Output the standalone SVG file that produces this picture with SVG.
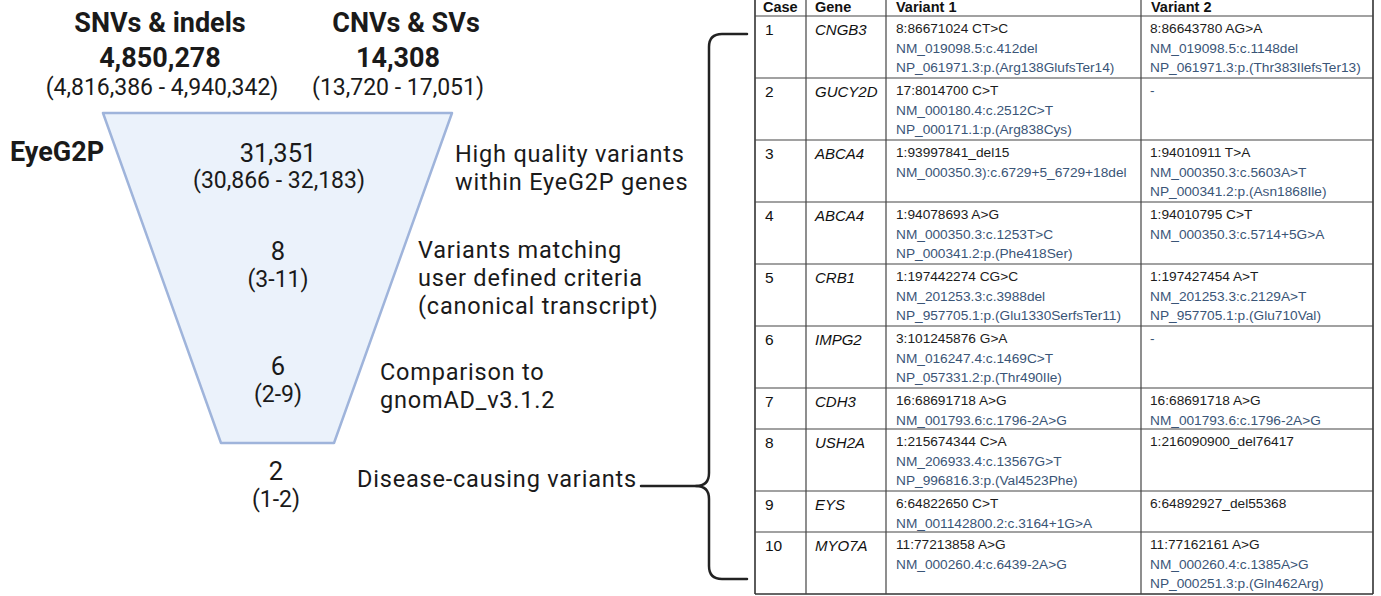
<svg xmlns="http://www.w3.org/2000/svg" width="1381" height="596" viewBox="0 0 1381 596">
<style>
.t{font-family:Roboto,"Liberation Sans",sans-serif;fill:#1a1a1a}
.b{font-weight:700;font-size:27px}
.n{font-size:25.5px}
.l{font-size:23.5px;letter-spacing:0.8px}
.p{font-size:23px}
.m{text-anchor:middle}
.th{font-family:"Liberation Sans",Arial,sans-serif;font-weight:700;font-size:14.5px;fill:#111}
.cn{font-family:"Liberation Sans",Arial,sans-serif;font-size:15.5px;fill:#111}
.gn{font-family:"Liberation Sans",Arial,sans-serif;font-size:15px;font-style:italic;fill:#111}
.v0{font-family:"Liberation Sans",Arial,sans-serif;font-size:13.7px;fill:#1c1c1c}
.v1{font-family:"Liberation Sans",Arial,sans-serif;font-size:13.7px;fill:#3a5577}
.grid{stroke:#444;stroke-width:1.2;fill:none}
.outer{stroke:#333;stroke-width:1.6;fill:none}
.br{stroke:#222;stroke-width:2.5;fill:none;stroke-linecap:round;stroke-linejoin:round}
</style>
<rect width="1381" height="596" fill="#fff"/>

<g id="title-snv">
<text class="t b m" x="160" y="32">SNVs &amp; indels</text>
<text class="t b m" x="160" y="67">4,850,278</text>
<text class="t p m" x="162" y="95">(4,816,386 - 4,940,342)</text>
</g>
<g id="title-cnv">
<text class="t b m" x="406" y="32">CNVs &amp; SVs</text>
<text class="t b m" x="398" y="67">14,308</text>
<text class="t p m" x="398" y="95">(13,720 - 17,051)</text>
</g>

<g id="funnel">
<polygon points="103,113 452,113 334,443 221,443" fill="#EBF2FB" stroke="#9FB4DB" stroke-width="2.5" stroke-linejoin="round"/>
</g>

<g id="eyeg2p"><text class="t b" x="10" y="161">EyeG2P</text></g>

<g id="stage1">
<text class="t m" x="278" y="162"><tspan class="n" x="278">31,351</tspan><tspan class="p" x="279" dy="26">(30,866 - 32,183)</tspan></text>
<text class="t l" x="455" y="162"><tspan x="455">High quality variants</tspan><tspan x="455" dy="28">within EyeG2P genes</tspan></text>
</g>
<g id="stage2">
<text class="t m" x="278" y="260"><tspan class="n" x="278">8</tspan><tspan class="p" x="278" dy="27">(3-11)</tspan></text>
<text class="t l" x="418" y="258"><tspan x="418">Variants matching</tspan><tspan x="418" dy="28">user defined criteria</tspan><tspan x="418" dy="28">(canonical transcript)</tspan></text>
</g>
<g id="stage3">
<text class="t m" x="278" y="375"><tspan class="n" x="278">6</tspan><tspan class="p" x="278" dy="27">(2-9)</tspan></text>
<text class="t l" x="380" y="380"><tspan x="380">Comparison to</tspan><tspan x="380" dy="28">gnomAD_v3.1.2</tspan></text>
</g>
<g id="stage4">
<text class="t m" x="276" y="480"><tspan class="n" x="276">2</tspan><tspan class="p" x="276" dy="27">(1-2)</tspan></text>
<text class="t l" x="357" y="487">Disease-causing variants</text>
</g>

<g id="connectors">
<path class="br" d="M641,486 H696 Q709,486 709,473 V47 Q709,34 722,34 H747"/>
<path class="br" d="M696,486 Q709,486 709,499 V566 Q709,579 722,579 H747"/>
</g>

<g id="table">
<g id="table-grid">
<line class="outer" x1="755" y1="0" x2="755" y2="594"/>
<line class="outer" x1="1373" y1="0" x2="1373" y2="594"/>
<line class="outer" x1="755" y1="594" x2="1373" y2="594"/>
<line class="grid" x1="806" y1="0" x2="806" y2="594"/>
<line class="grid" x1="886" y1="0" x2="886" y2="594"/>
<line class="grid" x1="1141" y1="0" x2="1141" y2="594"/>
<line class="grid" x1="755" y1="16" x2="1373" y2="16"/>
<line class="grid" x1="755" y1="78" x2="1373" y2="78"/>
<line class="grid" x1="755" y1="140" x2="1373" y2="140"/>
<line class="grid" x1="755" y1="202" x2="1373" y2="202"/>
<line class="grid" x1="755" y1="264" x2="1373" y2="264"/>
<line class="grid" x1="755" y1="326" x2="1373" y2="326"/>
<line class="grid" x1="755" y1="388" x2="1373" y2="388"/>
<line class="grid" x1="755" y1="429" x2="1373" y2="429"/>
<line class="grid" x1="755" y1="491" x2="1373" y2="491"/>
<line class="grid" x1="755" y1="532" x2="1373" y2="532"/>
</g>
<g id="table-header">
<text class="th" x="763" y="12">Case</text>
<text class="th" x="815" y="12">Gene</text>
<text class="th" x="896" y="12">Variant 1</text>
<text class="th" x="1151" y="12">Variant 2</text>
</g>
<g id="row1">
<text class="cn" x="765" y="35">1</text><text class="gn" x="815" y="35">CNGB3</text>
<text class="v0" x="896" y="33">8:86671024 CT&gt;C</text>
<text class="v1" x="896" y="52.5">NM_019098.5:c.412del</text>
<text class="v1" x="896" y="72">NP_061971.3:p.(Arg138GlufsTer14)</text>
<text class="v0" x="1150" y="33">8:86643780 AG&gt;A</text>
<text class="v1" x="1150" y="52.5">NM_019098.5:c.1148del</text>
<text class="v1" x="1150" y="72">NP_061971.3:p.(Thr383IlefsTer13)</text>
</g>
<g id="row2">
<text class="cn" x="765" y="97">2</text><text class="gn" x="815" y="97">GUCY2D</text>
<text class="v0" x="896" y="95">17:8014700 C&gt;T</text>
<text class="v1" x="896" y="114.5">NM_000180.4:c.2512C&gt;T</text>
<text class="v1" x="896" y="134">NP_000171.1:p.(Arg838Cys)</text>
<text class="v1" x="1150" y="95">-</text>
</g>
<g id="row3">
<text class="cn" x="765" y="159">3</text><text class="gn" x="815" y="159">ABCA4</text>
<text class="v0" x="896" y="157">1:93997841_del15</text>
<text class="v1" x="896" y="176.5">NM_000350.3):c.6729+5_6729+18del</text>
<text class="v0" x="1150" y="157">1:94010911 T&gt;A</text>
<text class="v1" x="1150" y="176.5">NM_000350.3:c.5603A&gt;T</text>
<text class="v1" x="1150" y="196">NP_000341.2:p.(Asn1868Ile)</text>
</g>
<g id="row4">
<text class="cn" x="765" y="221">4</text><text class="gn" x="815" y="221">ABCA4</text>
<text class="v0" x="896" y="219">1:94078693 A&gt;G</text>
<text class="v1" x="896" y="238.5">NM_000350.3:c.1253T&gt;C</text>
<text class="v1" x="896" y="258">NP_000341.2:p.(Phe418Ser)</text>
<text class="v0" x="1150" y="219">1:94010795 C&gt;T</text>
<text class="v1" x="1150" y="238.5">NM_000350.3:c.5714+5G&gt;A</text>
</g>
<g id="row5">
<text class="cn" x="765" y="283">5</text><text class="gn" x="815" y="283">CRB1</text>
<text class="v0" x="896" y="281">1:197442274 CG&gt;C</text>
<text class="v1" x="896" y="300.5">NM_201253.3:c.3988del</text>
<text class="v1" x="896" y="320">NP_957705.1:p.(Glu1330SerfsTer11)</text>
<text class="v0" x="1150" y="281">1:197427454 A&gt;T</text>
<text class="v1" x="1150" y="300.5">NM_201253.3:c.2129A&gt;T</text>
<text class="v1" x="1150" y="320">NP_957705.1:p.(Glu710Val)</text>
</g>
<g id="row6">
<text class="cn" x="765" y="345">6</text><text class="gn" x="815" y="345">IMPG2</text>
<text class="v0" x="896" y="343">3:101245876 G&gt;A</text>
<text class="v1" x="896" y="362.5">NM_016247.4:c.1469C&gt;T</text>
<text class="v1" x="896" y="382">NP_057331.2:p.(Thr490Ile)</text>
<text class="v1" x="1150" y="343">-</text>
</g>
<g id="row7">
<text class="cn" x="765" y="407">7</text><text class="gn" x="815" y="407">CDH3</text>
<text class="v0" x="896" y="405">16:68691718 A&gt;G</text>
<text class="v1" x="896" y="424.5">NM_001793.6:c.1796-2A&gt;G</text>
<text class="v0" x="1150" y="405">16:68691718 A&gt;G</text>
<text class="v1" x="1150" y="424.5">NM_001793.6:c.1796-2A&gt;G</text>
</g>
<g id="row8">
<text class="cn" x="765" y="448">8</text><text class="gn" x="815" y="448">USH2A</text>
<text class="v0" x="896" y="446">1:215674344 C&gt;A</text>
<text class="v1" x="896" y="465.5">NM_206933.4:c.13567G&gt;T</text>
<text class="v1" x="896" y="485">NP_996816.3:p.(Val4523Phe)</text>
<text class="v0" x="1150" y="446">1:216090900_del76417</text>
</g>
<g id="row9">
<text class="cn" x="765" y="510">9</text><text class="gn" x="815" y="510">EYS</text>
<text class="v0" x="896" y="508">6:64822650 C&gt;T</text>
<text class="v1" x="896" y="527.5">NM_001142800.2:c.3164+1G&gt;A</text>
<text class="v0" x="1150" y="508">6:64892927_del55368</text>
</g>
<g id="row10">
<text class="cn" x="765" y="551">10</text><text class="gn" x="815" y="551">MYO7A</text>
<text class="v0" x="896" y="549">11:77213858 A&gt;G</text>
<text class="v1" x="896" y="568.5">NM_000260.4:c.6439-2A&gt;G</text>
<text class="v0" x="1150" y="549">11:77162161 A&gt;G</text>
<text class="v1" x="1150" y="568.5">NM_000260.4:c.1385A&gt;G</text>
<text class="v1" x="1150" y="588">NP_000251.3:p.(Gln462Arg)</text>
</g>
</g>
</svg>
